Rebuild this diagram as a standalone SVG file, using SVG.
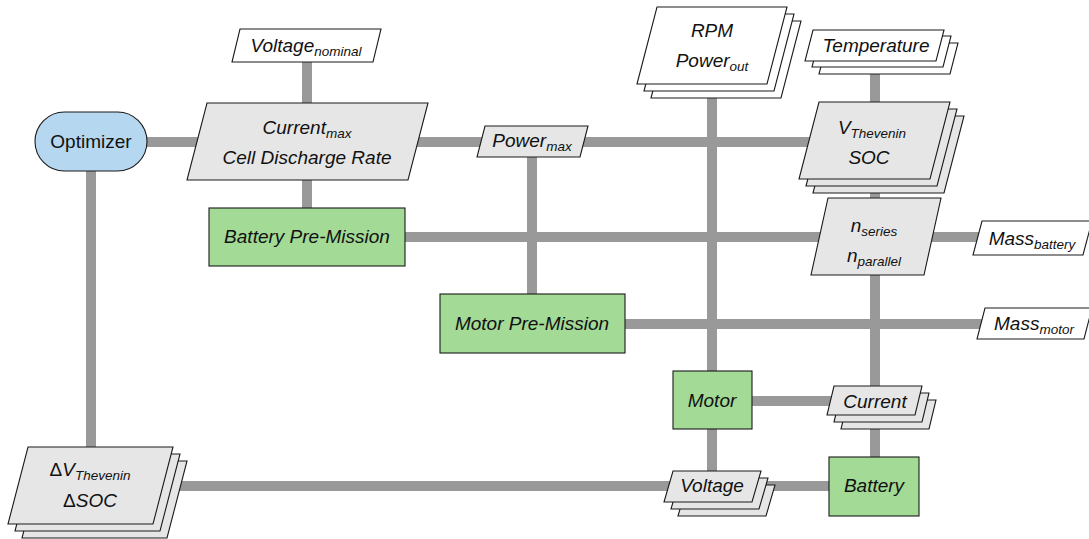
<svg xmlns="http://www.w3.org/2000/svg" width="1089" height="539" viewBox="0 0 1089 539">
<defs>
<style>
.ln{stroke:#999;stroke-width:10;fill:none}
.gray{fill:#e6e6e6;stroke:#1a1a1a;stroke-width:1.1}
.white{fill:#fff;stroke:#1a1a1a;stroke-width:1.1}
.green{fill:#a3da96;stroke:#1a1a1a;stroke-width:1.1}
.opt{fill:#b5d7f0;stroke:#1a1a1a;stroke-width:1.1}
text{font-family:"Liberation Sans",Arial,sans-serif;font-size:19px;font-style:italic;text-anchor:middle;fill:#111}
.up{font-style:normal}
.sub{font-size:13.5px}
</style>
</defs>
<rect width="1089" height="539" fill="#fff"/>
<g id="connectors">
<line class="ln" x1="91" y1="142" x2="875" y2="142"/>
<line class="ln" x1="91" y1="142" x2="91" y2="487"/>
<line class="ln" x1="307" y1="45" x2="307" y2="237"/>
<line class="ln" x1="307" y1="237" x2="1030" y2="237"/>
<line class="ln" x1="532" y1="142" x2="532" y2="324"/>
<line class="ln" x1="712" y1="45" x2="712" y2="486"/>
<line class="ln" x1="532" y1="324" x2="1033" y2="324"/>
<line class="ln" x1="875" y1="45" x2="875" y2="486"/>
<line class="ln" x1="712" y1="401" x2="875" y2="401"/>
<line class="ln" x1="90" y1="486" x2="874" y2="486"/>
</g>
<g id="voltage_nominal">
<polygon class="white" points="240,29 381,29 373,62 232,62"/>
<text x="306" y="52">Voltage<tspan class="sub" dy="4">nominal</tspan></text>
</g>
<g id="optimizer">
<rect class="opt" x="35" y="112" width="112" height="59" rx="29.5" ry="29.5"/>
<text class="up" x="91" y="148">Optimizer</text>
</g>
<g id="current_max">
<polygon class="gray" points="207,103 428,103 408,180 187,180"/>
<text x="307" y="134">Current<tspan class="sub" dy="4">max</tspan></text>
<text x="307" y="164">Cell Discharge Rate</text>
</g>
<g id="battery_premission">
<rect class="green" x="209" y="208" width="196" height="58"/>
<text x="307" y="243">Battery Pre-Mission</text>
</g>
<g id="power_max">
<polygon class="gray" points="485,126 588,126 580,157 477,157"/>
<text x="532" y="147">Power<tspan class="sub" dy="4">max</tspan></text>
</g>
<g id="rpm_power_out">
<polygon class="white" points="671,21 801,21 781,98 651,98"/>
<polygon class="white" points="664,14 794,14 774,91 644,91"/>
<polygon class="white" points="657,7 787,7 767,84 637,84"/>
<text x="712" y="37">RPM</text>
<text x="712" y="67">Power<tspan class="sub" dy="4">out</tspan></text>
</g>
<g id="temperature">
<polygon class="white" points="827,43 958,43 950,74 819,74"/>
<polygon class="white" points="820,36 951,36 943,67 812,67"/>
<polygon class="white" points="813,30 944,30 936,61 805,61"/>
<text x="876" y="52">Temperature</text>
</g>
<g id="v_thevenin_soc">
<polygon class="gray" points="833,116 964,116 944,193 813,193"/>
<polygon class="gray" points="826,109 957,109 937,186 806,186"/>
<polygon class="gray" points="819,102 950,102 930,179 799,179"/>
<text x="872" y="134">V<tspan class="sub" dy="4">Thevenin</tspan></text>
<text x="869" y="164">SOC</text>
</g>
<g id="n_series_parallel">
<polygon class="gray" points="828,198 941,198 924,275 811,275"/>
<text x="874" y="232">n<tspan class="sub" dy="4">series</tspan></text>
<text x="874" y="262">n<tspan class="sub" dy="4">parallel</tspan></text>
</g>
<g id="mass_battery">
<polygon class="white" points="982,221 1092,221 1083,255 973,255"/>
<text x="1032" y="245">Mass<tspan class="sub" dy="4">battery</tspan></text>
</g>
<g id="motor_premission">
<rect class="green" x="440" y="294" width="185" height="59"/>
<text x="532" y="330">Motor Pre-Mission</text>
</g>
<g id="mass_motor">
<polygon class="white" points="985,308 1092,308 1084,339 977,339"/>
<text x="1034" y="330">Mass<tspan class="sub" dy="4">motor</tspan></text>
</g>
<g id="motor">
<rect class="green" x="673" y="371" width="79" height="58"/>
<text x="712" y="407">Motor</text>
</g>
<g id="current">
<polygon class="gray" points="848,400 936,400 929,429 841,429"/>
<polygon class="gray" points="841,393 929,393 922,422 834,422"/>
<polygon class="gray" points="834,386 922,386 915,415 827,415"/>
<text x="875" y="408">Current</text>
</g>
<g id="delta_v_soc">
<polygon class="gray" points="42,461 187,461 167,538 22,538"/>
<polygon class="gray" points="35,454 180,454 160,531 15,531"/>
<polygon class="gray" points="28,447 173,447 153,524 8,524"/>
<text x="90" y="476"><tspan class="up">Δ</tspan>V<tspan class="sub" dy="4">Thevenin</tspan></text>
<text x="90" y="507"><tspan class="up">Δ</tspan>SOC</text>
</g>
<g id="voltage">
<polygon class="gray" points="687,485 775,485 766,516 678,516"/>
<polygon class="gray" points="680,478 768,478 759,509 671,509"/>
<polygon class="gray" points="673,471 761,471 752,502 664,502"/>
<text x="712" y="492">Voltage</text>
</g>
<g id="battery">
<rect class="green" x="829" y="457" width="90" height="59"/>
<text x="874" y="492">Battery</text>
</g>
</svg>
